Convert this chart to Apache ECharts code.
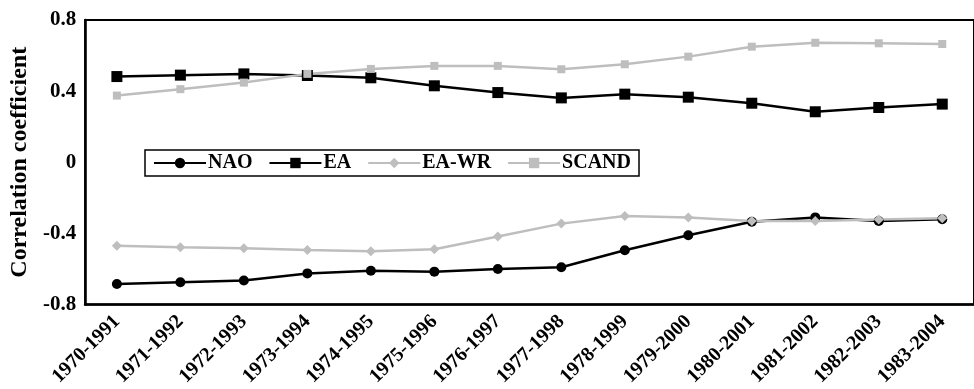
<!DOCTYPE html>
<html><head><meta charset="utf-8">
<script src="https://cdn.jsdelivr.net/npm/echarts@6/dist/echarts.min.js"></script>
<style>html,body{margin:0;padding:0;background:#fff}#c{width:974px;height:389px}</style>
</head><body><div id="c"></div>
<script>
const categories = ['1970-1991','1971-1992','1972-1993','1973-1994','1974-1995','1975-1996','1976-1997','1977-1998','1978-1999','1979-2000','1980-2001','1981-2002','1982-2003','1983-2004'];
const nao   = [-0.685,-0.675,-0.665,-0.625,-0.61,-0.615,-0.60,-0.59,-0.495,-0.41,-0.335,-0.31,-0.33,-0.32];
const ea    = [0.482,0.49,0.497,0.488,0.475,0.43,0.392,0.362,0.383,0.366,0.332,0.284,0.308,0.327];
const eawr  = [-0.47,-0.478,-0.484,-0.494,-0.5,-0.489,-0.418,-0.345,-0.302,-0.311,-0.33,-0.33,-0.322,-0.315];
const scand = [0.375,0.411,0.448,0.497,0.525,0.542,0.542,0.523,0.551,0.594,0.65,0.672,0.669,0.665];
const seriesNames = ['NAO','EA','EA-WR','SCAND'];
const yTicks = {min:-0.8, max:0.8, interval:0.4};

const font = 'Liberation Serif';
const black = '#000000', gray = '#bebebe';
function mk(name, data, color, symbol, size){
  return {name, type:'line', data, symbol, symbolSize:size,
    lineStyle:{color, width:2.5}, itemStyle:{color, borderWidth:0}, animation:false};
}
const chart = echarts.init(document.getElementById('c'));
chart.setOption({
  backgroundColor:'#fff',
  animation:false,
  grid:{left:84, top:20, height:285, width:896, show:true, borderColor:'#000', borderWidth:2},
  legend:{left:145, top:150, padding:[3,8,3,8], itemGap:16, itemWidth:52, itemHeight:13,
    borderColor:'#000', borderWidth:1.5, backgroundColor:'#fff',
    textStyle:{fontFamily:font, fontWeight:'bold', fontSize:20, color:'#000', padding:[0,0,0,-3]},
    data:seriesNames},
  xAxis:{type:'category', data:categories, boundaryGap:true,
    axisLine:{onZero:false, lineStyle:{color:'#000', width:2.5}},
    axisTick:{inside:true, length:5, lineStyle:{color:'#000', width:1}},
    axisLabel:{rotate:45, fontFamily:font, fontWeight:'bold', fontSize:20, color:'#000', margin:14, interval:0}},
  yAxis:{type:'value', min:yTicks.min, max:yTicks.max, interval:yTicks.interval,
    name:'Correlation coefficient', nameLocation:'middle', nameGap:48,
    nameTextStyle:{fontFamily:font, fontWeight:'bold', fontSize:24, color:'#000'},
    splitLine:{show:false},
    axisLine:{show:true, lineStyle:{color:'#000', width:2.5}},
    axisTick:{show:false},
    axisLabel:{fontFamily:font, fontWeight:'bold', fontSize:21, color:'#000', margin:9}},
  series:[
    mk('NAO', nao, black, 'circle', 10),
    mk('EA', ea, black, 'rect', 11),
    mk('EA-WR', eawr, gray, 'diamond', 10),
    mk('SCAND', scand, gray, 'rect', 8)
  ]
});
</script></body></html>
